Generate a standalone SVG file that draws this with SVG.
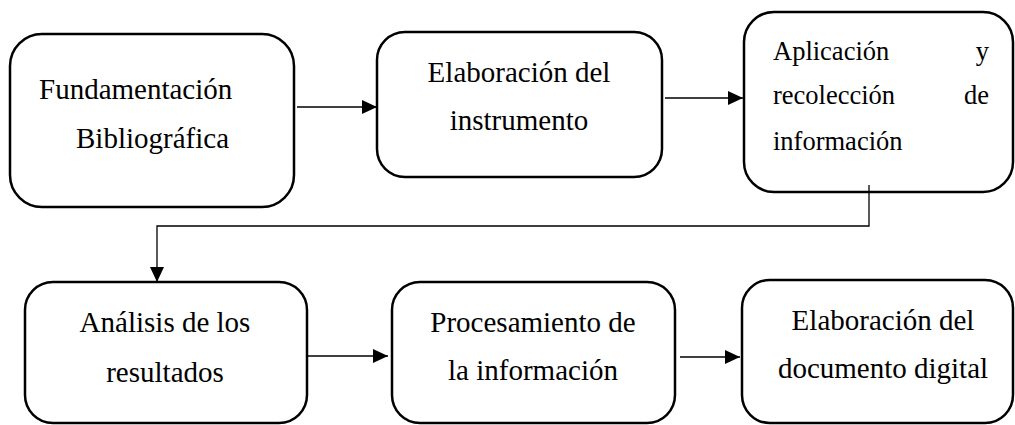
<svg xmlns="http://www.w3.org/2000/svg" width="1015" height="425" viewBox="0 0 1015 425">
<style>
.box{fill:#fff;stroke:#000;stroke-width:2.5}
.t{font-family:"Liberation Serif","Times New Roman",serif;font-size:29px;fill:#000}
.s{font-family:"Liberation Serif","Times New Roman",serif;font-size:26.5px;fill:#000}
.c{fill:none;stroke:#000;stroke-width:1.3}
</style>
<defs>
<marker id="ah" markerUnits="userSpaceOnUse" markerWidth="16" markerHeight="14" refX="15" refY="7" orient="auto">
<path d="M0,0 L15,7 L0,14 Z" fill="#000"/>
</marker>
</defs>
<g id="n1">
<rect class="box" x="10" y="34" width="284" height="173" rx="32"/>
<text class="t" x="39" y="99">Fundamentación</text>
<text class="t" x="76" y="148">Bibliográfica</text>
</g>
<g id="n2">
<rect class="box" x="377" y="32" width="285" height="145" rx="28"/>
<text class="t" x="519" y="82" text-anchor="middle">Elaboración del</text>
<text class="t" x="519" y="130" text-anchor="middle">instrumento</text>
</g>
<g id="n3">
<rect class="box" x="744" y="12" width="269" height="180" rx="30"/>
<text class="s" x="773" y="60">Aplicación</text>
<text class="s" x="989" y="60" text-anchor="end">y</text>
<text class="s" x="773" y="104">recolección</text>
<text class="s" x="989" y="104" text-anchor="end">de</text>
<text class="s" x="773" y="150">información</text>
</g>
<g id="n4">
<rect class="box" x="25" y="282" width="282" height="141" rx="28"/>
<text class="t" x="165" y="332" text-anchor="middle">Análisis de los</text>
<text class="t" x="165" y="382" text-anchor="middle">resultados</text>
</g>
<g id="n5">
<rect class="box" x="392" y="282" width="283" height="141" rx="28"/>
<text class="t" x="533" y="332" text-anchor="middle">Procesamiento de</text>
<text class="t" x="533" y="380" text-anchor="middle">la información</text>
</g>
<g id="n6">
<rect class="box" x="742" y="280" width="271" height="143" rx="28"/>
<text class="t" x="883" y="330" text-anchor="middle">Elaboración del</text>
<text class="t" x="883" y="378" text-anchor="middle">documento digital</text>
</g>
<g id="connectors">
<path class="c" d="M297,107 H377" marker-end="url(#ah)"/>
<path class="c" d="M665,98 H743" marker-end="url(#ah)"/>
<path class="c" d="M869,185 V226 H157 V282" marker-end="url(#ah)"/>
<path class="c" d="M308,356 H388" marker-end="url(#ah)"/>
<path class="c" d="M680,357 H740" marker-end="url(#ah)"/>
</g>
</svg>
